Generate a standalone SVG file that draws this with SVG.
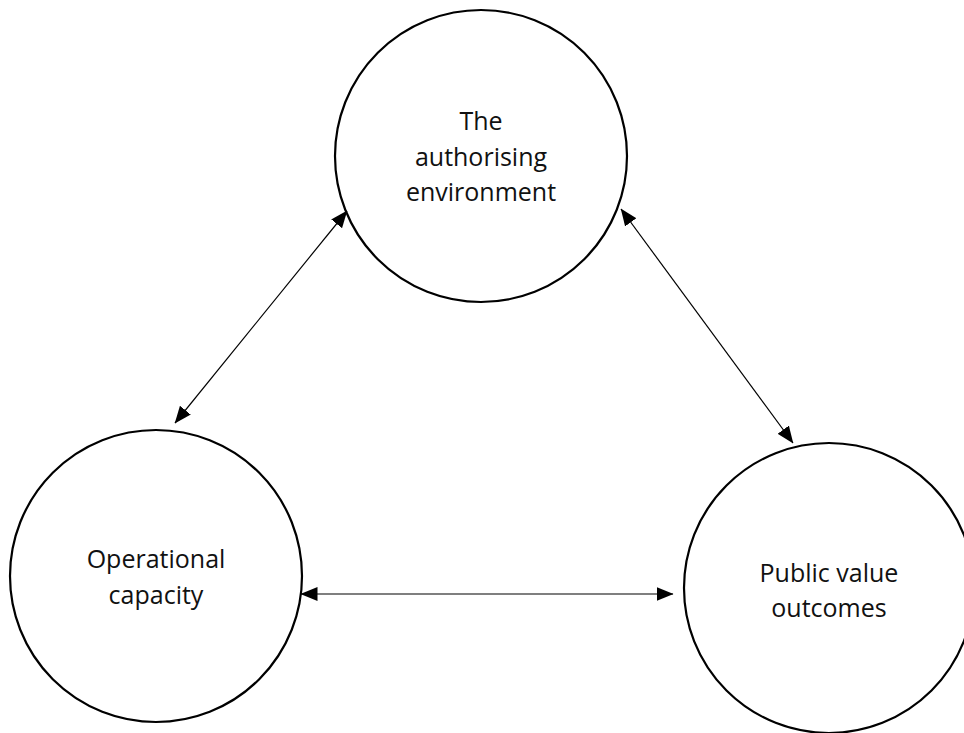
<svg xmlns="http://www.w3.org/2000/svg" width="964" height="733" viewBox="0 0 964 733">
<style>
.node circle{fill:#fff;stroke:#000;stroke-width:2.2}
.node text{font-family:"Open Sans","Liberation Sans",sans-serif;font-size:25px;fill:#111;text-anchor:middle}
.conn line{stroke:#000;stroke-width:1.2;marker-start:url(#ah);marker-end:url(#ah)}
</style>
<defs>
<marker id="ah" markerUnits="userSpaceOnUse" markerWidth="17" markerHeight="14" refX="16.5" refY="7" orient="auto-start-reverse" viewBox="0 0 17 14">
<path d="M0,0 L17,7 L0,14 z" fill="#000"/>
</marker>
</defs>
<rect width="964" height="733" fill="#fff"/>
<g id="authorising">
<g class="node">
<circle cx="481" cy="156" r="146"/>
<text x="481" y="129.5">The</text>
<text x="481" y="165.5">authorising</text>
<text x="481" y="200.5">environment</text>
</g>
</g>
<g id="operational">
<g class="node">
<circle cx="156" cy="576" r="146"/>
<text x="156" y="568">Operational</text>
<text x="156" y="604">capacity</text>
</g>
</g>
<g id="publicvalue">
<g class="node">
<circle cx="829" cy="588" r="145"/>
<text x="829" y="582">Public value</text>
<text x="829" y="617">outcomes</text>
</g>
</g>
<g id="connectors" class="conn">
<line x1="175" y1="423" x2="347" y2="211"/>
<line x1="621" y1="209" x2="793" y2="443"/>
<line x1="301" y1="594" x2="673" y2="594"/>
</g>
</svg>
